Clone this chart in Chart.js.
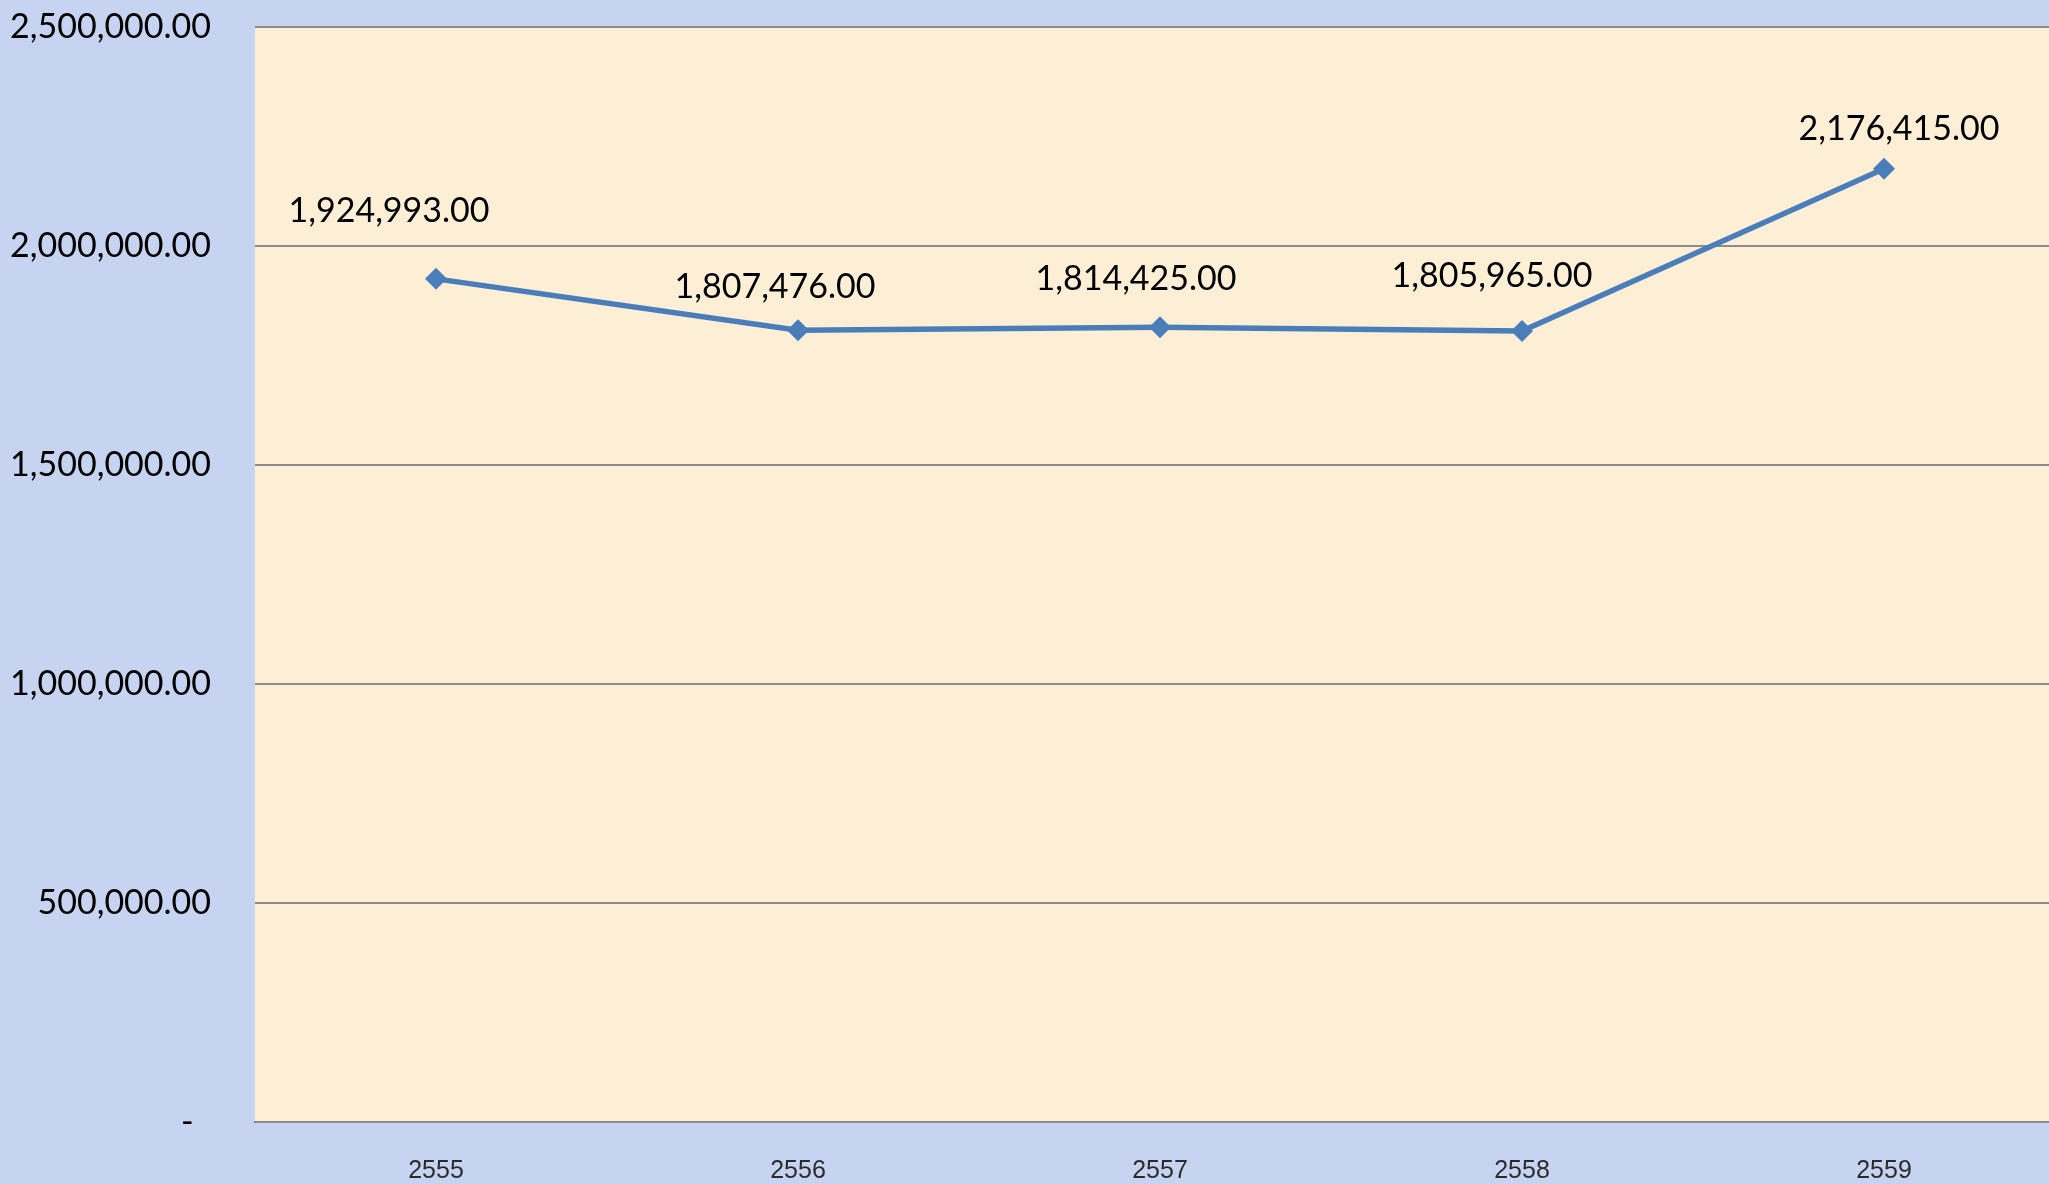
<!DOCTYPE html>
<html>
<head>
<meta charset="utf-8">
<script src="https://cdn.jsdelivr.net/npm/chart.js@4/dist/chart.umd.min.js"></script>
<style>
    html, body { margin: 0; padding: 0; background: #c7d4f1; overflow: hidden; }
    /* plot area runs a little past the right edge of the picture */
    #wrap { width: 2065px; height: 1184px; position: relative; }
    canvas { display: block; }
</style>
</head>
<body>
<div id="wrap"><canvas id="chart"></canvas></div>
<script>
// Data
const years = ['2555', '2556', '2557', '2558', '2559'];
const amounts = [1924993, 1807476, 1814425, 1805965, 2176415];
const yTicks = [0, 500000, 1000000, 1500000, 2000000, 2500000];

// label nudges (dx, baseline dy) relative to each point
const labelNudge = [[-47, -57], [-23, -32], [-24, -37], [-30, -44], [15, -29]];

function fmtMoney(v) {
    if (v === 0) return '-  ';   // accounting style zero
    return v.toLocaleString('en-US', { minimumFractionDigits: 2, maximumFractionDigits: 2 });
}

// page + plot backgrounds
const bgPlugin = {
    id: 'bg',
    beforeDraw(chart) {
        const { ctx, chartArea: a } = chart;
        ctx.save();
        ctx.fillStyle = '#c7d4f1';
        ctx.fillRect(0, 0, chart.width, chart.height);
        ctx.fillStyle = '#fcefd6';
        ctx.fillRect(a.left, a.top, a.right - a.left, a.bottom - a.top);
        ctx.restore();
    }
};

const valueLabels = {
    id: 'valueLabels',
    afterDatasetsDraw(chart) {
        const ctx = chart.ctx;
        const meta = chart.getDatasetMeta(0);
        ctx.save();
        ctx.font = '34px Lato';
        ctx.fillStyle = '#000';
        ctx.textAlign = 'center';
        ctx.textBaseline = 'alphabetic';
        meta.data.forEach((pt, i) => {
            const n = labelNudge[i];
            ctx.fillText(fmtMoney(amounts[i]), pt.x + n[0], pt.y + n[1]);
        });
        ctx.restore();
    }
};

const ctx = document.getElementById('chart').getContext('2d');
new Chart(ctx, {
    type: 'line',
    data: {
        labels: years,
        datasets: [{
            data: amounts,
            borderColor: '#4a7ebb',
            backgroundColor: '#4a7ebb',
            borderWidth: 5.5,
            pointStyle: 'rectRot',
            pointRadius: 11,
            pointHoverRadius: 11,
            pointBorderWidth: 0,
            tension: 0
        }]
    },
    options: {
        responsive: true,
        maintainAspectRatio: false,
        animation: false,
        layout: { autoPadding: false, padding: { top: 27, right: 0, left: 0, bottom: 0 } },
        plugins: {
            legend: { display: false },
            tooltip: { enabled: false }
        },
        scales: {
            x: {
                offset: true,
                grid: { display: false, drawTicks: false },
                border: { display: true, color: '#8c8c8c', width: 2 },
                ticks: {
                    color: '#2b2b2b',
                    font: { family: 'Liberation Sans', size: 25 },
                    padding: 34,
                    maxRotation: 0
                },
                afterFit(scale) {
                    scale.height = 62;
                    scale.paddingLeft = 0;
                    scale.paddingRight = 0;
                }
            },
            y: {
                min: 0,
                max: 2500000,
                afterBuildTicks(scale) { scale.ticks = yTicks.map(v => ({ value: v })); },
                grid: { color: '#8c8c8c', lineWidth: 2, drawTicks: false },
                border: { display: false },
                ticks: {
                    color: '#000',
                    font: { family: 'Lato', size: 34 },
                    padding: 44,
                    callback: v => fmtMoney(v)
                },
                afterFit(scale) {
                    scale.width = 255;
                    scale.paddingTop = 0;
                    scale.paddingBottom = 0;
                }
            }
        }
    },
    plugins: [bgPlugin, valueLabels]
});
</script>
</body>
</html>
